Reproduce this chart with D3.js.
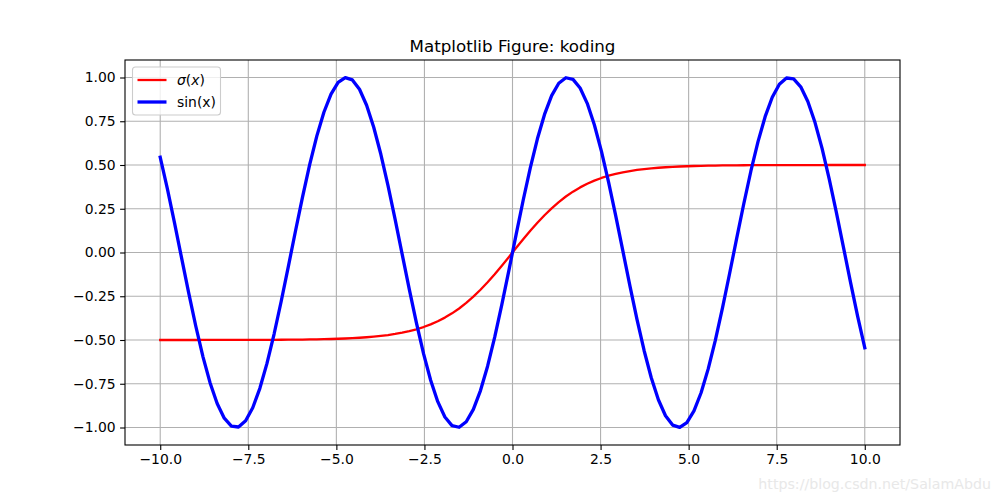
<!DOCTYPE html>
<html><head><meta charset="utf-8">
<script src="https://cdn.jsdelivr.net/npm/d3@7"></script>
<style>
html,body{margin:0;padding:0;background:#fff;}
svg text{font-family:"DejaVu Sans",sans-serif;}
</style></head>
<body><svg id="c" width="1000" height="500"></svg>
<script>
// x samples (100 points from -10 to 10), first half; second half mirrors
const xHalf = [-10.0000,-9.79798,-9.59596,-9.39394,-9.19192,-8.98990,-8.78788,-8.58586,-8.38384,-8.18182,
 -7.97980,-7.77778,-7.57576,-7.37374,-7.17172,-6.96970,-6.76768,-6.56566,-6.36364,-6.16162,
 -5.95960,-5.75758,-5.55556,-5.35354,-5.15152,-4.94949,-4.74747,-4.54545,-4.34343,-4.14141,
 -3.93939,-3.73737,-3.53535,-3.33333,-3.13131,-2.92929,-2.72727,-2.52525,-2.32323,-2.12121,
 -1.91919,-1.71717,-1.51515,-1.31313,-1.11111,-0.90909,-0.70707,-0.50505,-0.30303,-0.10101];
const sinHalf = [0.5440,0.3646,0.1703,-0.0308,-0.2308,-0.4213,-0.5947,-0.7439,-0.8629,-0.9467,
 -0.9921,-0.9971,-0.9615,-0.8869,-0.7761,-0.6338,-0.4658,-0.2787,-0.0804,0.1213,
 0.3180,0.5017,0.6651,0.8014,0.9051,0.9720,0.9994,0.9861,0.9327,0.8414,
 0.7158,0.5612,0.3837,0.1906,-0.0103,-0.2107,-0.4026,-0.5781,-0.7300,-0.8523,
 -0.9399,-0.9893,-0.9985,-0.9670,-0.8962,-0.7889,-0.6496,-0.4839,-0.2984,-0.1008];
const sigHalf = [-0.49995,-0.49994,-0.49993,-0.49992,-0.49990,-0.49988,-0.49985,-0.49981,-0.49977,-0.49972,
 -0.49966,-0.49958,-0.49949,-0.49937,-0.49923,-0.49906,-0.49885,-0.49859,-0.49828,-0.49790,
 -0.49743,-0.49685,-0.49615,-0.49529,-0.49425,-0.49297,-0.49140,-0.48950,-0.48718,-0.48436,
 -0.48092,-0.47675,-0.47170,-0.46558,-0.45819,-0.44932,-0.43865,-0.42593,-0.41079,-0.39295,
 -0.37206,-0.34777,-0.31983,-0.28805,-0.25248,-0.21282,-0.16975,-0.12365,-0.07519,-0.02523];
const xTicks = [-10.0,-7.5,-5.0,-2.5,0.0,2.5,5.0,7.5,10.0];
const yTicks = [-1.00,-0.75,-0.50,-0.25,0.00,0.25,0.50,0.75,1.00];
const seriesNames = ["σ(x)", "sin(x)"];
const titleText = "Matplotlib Figure: koding";
const watermark = "https://blog.csdn.net/SalamAbdu";

// full arrays (second half is the mirror of the first half)
const xs = xHalf.concat(xHalf.slice().reverse().map(v => -v));
const sinVals = sinHalf.concat(sinHalf.slice().reverse().map(v => -v));
const sigVals = sigHalf.concat(sigHalf.slice().reverse().map(v => -v));

const svg = d3.select("#c");
const L = 125, R = 900, T = 60, B = 445;
const x = d3.scaleLinear().domain([-11, 11]).range([L, R]);
const y = d3.scaleLinear().domain([-1.1, 1.1]).range([B, T]);

// grid
const g = svg.append("g");
g.selectAll(".gx").data(xTicks).enter().append("line")
  .attr("x1", d => x(d)).attr("x2", d => x(d)).attr("y1", T).attr("y2", B)
  .attr("stroke", "#b0b0b0").attr("stroke-width", 1.1);
g.selectAll(".gy").data(yTicks).enter().append("line")
  .attr("y1", d => y(d)).attr("y2", d => y(d)).attr("x1", L).attr("x2", R)
  .attr("stroke", "#b0b0b0").attr("stroke-width", 1.1);

// lines
const clip = svg.append("clipPath").attr("id", "clip").append("rect")
  .attr("x", L).attr("y", T).attr("width", R - L).attr("height", B - T);
const line = d3.line().x(d => x(d[0])).y(d => y(d[1]));
const colors = ["#ff0000", "#0000ff"], widths = [2.3, 3.3];
svg.append("path").datum(xs.map((v, i) => [v, sigVals[i]]))
  .attr("d", line).attr("fill", "none").attr("stroke", colors[0])
  .attr("stroke-width", widths[0]).attr("stroke-linejoin", "round").attr("stroke-linecap", "square")
  .attr("clip-path", "url(#clip)");
svg.append("path").datum(xs.map((v, i) => [v, sinVals[i]]))
  .attr("d", line).attr("fill", "none").attr("stroke", colors[1])
  .attr("stroke-width", widths[1]).attr("stroke-linejoin", "round").attr("stroke-linecap", "square")
  .attr("clip-path", "url(#clip)");

// axes
const fmtX = d3.format(".1f"), fmtY = d3.format(".2f");
const ax = svg.append("g").attr("transform", `translate(0,${B})`)
  .call(d3.axisBottom(x).tickValues(xTicks).tickFormat(fmtX).tickSize(4.9).tickPadding(4.5));
const ay = svg.append("g").attr("transform", `translate(${L},0)`)
  .call(d3.axisLeft(y).tickValues(yTicks).tickFormat(fmtY).tickSize(4.9).tickPadding(4.5));
[ax, ay].forEach(a => {
  a.select(".domain").remove();
  a.selectAll(".tick line").attr("stroke", "#000").attr("stroke-width", 1.1);
  a.selectAll(".tick text").attr("font-size", "13.9px").attr("fill", "#000")
    .attr("font-family", "DejaVu Sans");
});
svg.append("rect").attr("x", L).attr("y", T).attr("width", R - L).attr("height", B - T)
  .attr("fill", "none").attr("stroke", "#000").attr("stroke-width", 1.1);

// title
svg.append("text").attr("x", (L + R) / 2).attr("y", 52).attr("text-anchor", "middle")
  .attr("font-size", "16.7px").attr("fill", "#000").text(titleText);

// legend
const lg = svg.append("g");
lg.append("rect").attr("x", 132.5).attr("y", 67).attr("width", 88).attr("height", 48)
  .attr("rx", 3).attr("fill", "#fff").attr("fill-opacity", 0.8)
  .attr("stroke", "#cccccc").attr("stroke-width", 1.1);
seriesNames.forEach((n, i) => {
  const yy = 80 + i * 22;
  lg.append("line").attr("x1", 137.5).attr("x2", 166.5).attr("y1", yy).attr("y2", yy)
    .attr("stroke", colors[i]).attr("stroke-width", widths[i]);
  const t = lg.append("text").attr("x", 177).attr("y", yy + 5).attr("font-size", "13.9px").attr("fill", "#000");
  if (i === 0) {
    t.append("tspan").attr("font-style", "italic").text("σ");
    t.append("tspan").text("(");
    t.append("tspan").attr("font-style", "italic").text("x");
    t.append("tspan").text(")");
  } else t.text(n);
});

// watermark
svg.append("text").attr("x", 991).attr("y", 489).attr("text-anchor", "end")
  .attr("font-family", "Liberation Sans, Arial").attr("font-size", "14.2px")
  .attr("fill", "#e8e8e8").text(watermark);
</script></body></html>
